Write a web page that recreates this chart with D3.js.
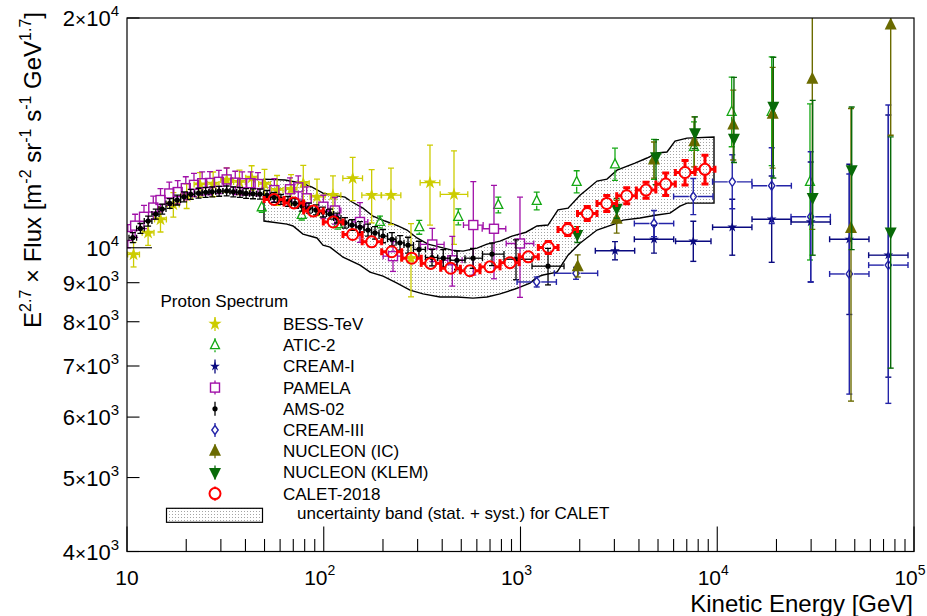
<!DOCTYPE html>
<html><head><meta charset="utf-8">
<script src="https://cdn.jsdelivr.net/npm/d3@7"></script>
<style>body{margin:0;background:#fff;} svg{display:block;font-family:"Liberation Sans",Arial,Helvetica,sans-serif;}</style>
</head><body><svg id="c" width="927" height="616"></svg>
<script>
// ---------------- DATA ----------------
const xTicks = [10, 100, 1000, 10000, 100000];
const yTicks = [4000, 5000, 6000, 7000, 8000, 9000, 10000, 20000];
const seriesNames = ["BESS-TeV","ATIC-2","CREAM-I","PAMELA","AMS-02","CREAM-III","NUCLEON (IC)","NUCLEON (KLEM)","CALET-2018"];

const bessE = [10.8,12.8,14.8,17.2,20.1,23.5,27.4,32.1,37.3,43.0,50.0,57.9,68.2,78.7,92.4,111.4,140.3,175.2,219.7,277.6,346.7,459.2];
const bessF = [9800,10460,10890,11390,11690,12100,12120,12270,12190,12350,12120,11900,11930,12150,11660,11720,12330,11720,11720,9690,12170,11750];
const bessErr = [3.7,3.7,3.7,3.7,3.7,3.7,3.7,3.7,3.7,3.7,4.5,4.5,4.5,5.5,5.5,6,6.5,8,8.5,11,12,14];
const bessDx = [0.03,0.03,0.03,0.03,0.03,0.03,0.03,0.03,0.03,0.03,0.03,0.03,0.03,0.03,0.035,0.04,0.05,0.05,0.05,0.05,0.05,0.07];

const aticE = [48.4,77.3,118.2,193.2,305.9,482.9,771.3,1209,1930,3022,4771,7617,11840,18910,29600];
const aticF = [11300,11040,10740,10810,10640,10980,11380,11520,12200,12860,13060,13560,15070,15070,12200];
const aticLo = [1.5,1.5,1.5,1.8,2.1,2.4,2.4,2.7,3.3,4.7,5.9,7.3,10,15,21];
const aticHi = [1.5,1.5,1.5,1.8,2.1,2.4,2.4,2.7,3.4,5,6.2,7.8,11,18,26.5];

const cream1E = [3022,4771,7555,11920,18910,29850,46900,74050];
const cream1F = [9910,10260,10200,10640,10900,10810,10260,9780];
const cream1Lo = [2.7,4.1,5.9,8.1,12.2,16.6,20.3,30.8];
const cream1Hi = [2.8,4.3,6.2,8.8,13.9,19.8,25.4,52.6];
const cream1Dx = [0.1,0.1,0.09,0.1,0.1,0.1,0.1,0.1];

const pamE = [10.1,11.0,12.2,13.6,14.8,16.4,18.1,19.9,21.9,24.1,26.4,29.3,32.1,35.5,38.5,42.5,46.3,56.1,67.4,74.2,81.9,99.5,114,152.8,224.9,356.2,450.1,575.6,733.2,994];
const pamF = [10360,10690,10980,11290,11550,11780,11830,11970,12090,12150,12160,12200,12290,12170,12150,12150,12120,11900,11930,12000,11610,11320,11190,10810,9750,10100,9630,10710,10590,10130];
const pamErr = [3.5,3.5,3.5,3.5,3.5,3.5,3.5,3.5,3.5,3.5,3.5,3.5,3.5,3.5,3.5,3.5,3.5,3.5,3.5,3.5,3.5,3.5,4,6,4.5,5,7.5,14,14,15];
const pamDx = [0.015,0.015,0.015,0.015,0.015,0.015,0.015,0.015,0.015,0.015,0.015,0.015,0.015,0.015,0.015,0.015,0.015,0.015,0.015,0.015,0.015,0.015,0.03,0.04,0.05,0.06,0.05,0.05,0.06,0.07];

const amsE = [10.7,11.7,12.8,14.0,15.1,16.5,18.0,19.5,21.1,23.1,25.1,27.1,29.4,32.1,34.7,37.5,40.3,43.7,47.4,51.5,55.9,60.6,65.8,71.4,77.5,84.1,91.3,99.1,107.6,116.8,128.2,139.2,152.8,167.9,182.2,200.1,222.3,244.1,268.1,304.8,355,405,475.5,573.6,716.4,948.7,1380];
const amsF = [10310,10600,10840,11070,11240,11430,11550,11660,11750,11790,11820,11840,11860,11870,11840,11820,11780,11770,11760,11710,11640,11570,11500,11430,11340,11270,11210,11140,11070,10940,10780,10710,10640,10550,10460,10360,10260,10150,10080,9950,9710,9690,9630,9690,9810,9660,9460];
const amsErr = [1.5,1.5,1.5,1.5,1.5,1.5,1.5,1.5,1.5,1.5,1.5,1.5,1.5,1.5,1.5,1.5,1.5,1.5,1.5,1.5,1.5,1.5,1.5,1.5,1.5,1.5,1.5,1.5,1.5,1.5,1.6,1.6,1.7,1.8,1.9,2,2,2.2,2.4,2.5,2.5,2.6,2.8,3,3.4,6,5.5];

const cream3E = [1209,1915,4771,7555,11920,18910,29850,46900,74050];
const cream3F = [9020,9260,10760,11670,12200,12060,10980,9240,9490];
const cream3Lo = [1.5,1.8,3.9,5.3,7.8,10.8,17.8,30.4,34.1];
const cream3Hi = [1.5,1.8,4.0,5.6,8.5,12.1,21.7,35.2,62.1];
const cream3Dx = [0.1,0.11,0.1,0.1,0.1,0.1,0.1,0.1,0.1];

const icE = [1953,3082,4771,7645,12060,19130,30420,47840,76130];
const icF = [9440,10900,13030,13770,14480,14960,16620,10600,19580];
const icLo = [3.0,4.1,5.3,7.3,10,15,36.4,40.6,28.3];
const icHi = [3.7,5.9,5.6,7.8,11.1,15.2,35.2,43.6,57.3];

const klemE = [1944,3082,4884,7707,12160,19270,30560,48230,76130];
const klemF = [10410,11270,13160,14150,13910,15330,11640,12650,10490];
const klemLo = [2.4,3,8.1,4.7,7,19.5,16,21.4,33.7];
const klemHi = [2.4,3,5.3,4.9,20.2,15.9,34,20.9,33.2];

const calE = [55.9,70.6,88.5,111.8,140.3,175.2,221.5,280,349.6,441.8,553.7,699.8,884.6,1096,1385,1738,2185,2743,3466,4344,5470,6857,8663];
const calF = [11570,11450,11170,10810,10410,10180,9880,9690,9540,9400,9330,9440,9560,9730,10010,10570,11090,11430,11700,11900,12120,12550,12670];
const calErr = [0.9,0.9,0.9,0.9,0.9,0.9,0.9,0.9,1.2,1.2,1.2,1.2,1.2,1.5,1.8,1.8,2.1,2.4,2.4,2.4,3.4,3.7,4.3];

const bandUpE = [49.7,63.5,77.5,87.2,99.1,111.4,128.2,139.2,158.3,178,204.8,238.5,265,297.8,338.8,389.8,448.5,510.3,601.1,675.6,786.8,905.6,1066,1213,1380,1551,1744,2006,2256,2448,2752,3094,3819,4395,4941,5555,6101,7021,9627];
const bandUpF = [12300,12270,12150,12010,11790,11720,11650,11480,11270,11000,10840,10680,10550,10300,10110,10020,9930,9900,9990,10110,10200,10360,10480,10680,10710,11210,11270,11720,12010,12230,12300,12640,12910,13110,13310,13350,13800,13920,13970];
const bandLoE = [49.7,65.0,69.8,78.4,92.4,99.1,107.6,125.3,152.8,171.8,200.1,235.7,274.4,319.5,389.8,475.5,573.6,675.6,786.8,937.6,994.3,1118,1213,1301,1533,1744,2006,2448,3094,3319,4049,4941,5753,6468,7021,9627];
const bandLoF = [10840,10740,10680,10420,10300,10080,10020,9720,9490,9290,9180,8990,8800,8700,8620,8620,8590,8620,8700,8830,8880,8990,9150,9210,9290,9780,10140,10550,10770,10870,10940,11040,11100,11340,11440,11440];

// ---------------- SETUP ----------------
const L = 127, R = 914, T = 18, B = 551.5;
const x = d3.scaleLog().domain([10, 1e5]).range([L, R]);
const y = d3.scaleLog().domain([4000, 20000]).range([B, T]);
const svg = d3.select('#c');
const defs = svg.append('defs');
defs.append('clipPath').attr('id', 'clip').append('rect')
  .attr('x', L).attr('y', T).attr('width', R - L).attr('height', B - T);
const pat = defs.append('pattern').attr('id', 'dots').attr('width', 3).attr('height', 3)
  .attr('patternUnits', 'userSpaceOnUse');
pat.append('rect').attr('width', 3).attr('height', 3).attr('fill', '#fff');
pat.append('rect').attr('x', 1).attr('y', 1).attr('width', 1).attr('height', 1).attr('fill', '#a4a4a4');

const plot = svg.append('g').attr('clip-path', 'url(#clip)');

// band
const bandPts = bandUpE.map((e, i) => [e, bandUpF[i]])
  .concat(bandLoE.map((e, i) => [e, bandLoF[i]]).reverse());
plot.append('path')
  .attr('d', d3.line().x(d => x(d[0])).y(d => y(d[1]))(bandPts) + 'Z')
  .attr('fill', 'url(#dots)').attr('stroke', '#000').attr('stroke-width', 1.4);

function neighborEdges(E) {
  const n = E.length, lo = [], hi = [];
  for (let i = 0; i < n; i++) {
    const prev = i > 0 ? E[i - 1] : E[i] * E[i] / E[i + 1];
    const next = i < n - 1 ? E[i + 1] : E[i] * E[i] / E[i - 1];
    lo.push(Math.sqrt(prev * E[i])); hi.push(Math.sqrt(next * E[i]));
  }
  return [lo, hi];
}
const dxEdges = (E, dx) => [E.map((e, i) => e / Math.pow(10, dx[i])), E.map((e, i) => e * Math.pow(10, dx[i]))];

const series = [
  { name: seriesNames[0], E: bessE, F: bessF, lo: bessErr, hi: bessErr, xe: dxEdges(bessE, bessDx), color: '#cccc00', m: 'star', size: 55, gap: 0, w: 1.3, cap: 3 },
  { name: seriesNames[1], E: aticE, F: aticF, lo: aticLo, hi: aticHi, xe: null, color: '#14a814', m: 'otri', gap: 5, w: 1.3, cap: 3 },
  { name: seriesNames[2], E: cream1E, F: cream1F, lo: cream1Lo, hi: cream1Hi, xe: dxEdges(cream1E, cream1Dx), color: '#0a0a80', m: 'star', size: 30, gap: 0, w: 1.4, cap: 3 },
  { name: seriesNames[3], E: pamE, F: pamF, lo: pamErr, hi: pamErr, xe: dxEdges(pamE, pamDx), color: '#a010a8', m: 'square', gap: 4.5, w: 1.3, cap: 3 },
  { name: seriesNames[4], E: amsE, F: amsF, lo: amsErr, hi: amsErr, xe: neighborEdges(amsE), color: '#000', m: 'dot', gap: 0, w: 1.3, cap: 3 },
  { name: seriesNames[5], E: cream3E, F: cream3F, lo: cream3Lo, hi: cream3Hi, xe: dxEdges(cream3E, cream3Dx), color: '#2424a8', m: 'diamond', gap: 4.5, w: 1.4, cap: 3 },
  { name: seriesNames[6], E: icE, F: icF, lo: icLo, hi: icHi, xe: null, color: '#6b6b00', m: 'tup', gap: 0, w: 1.4, cap: 3 },
  { name: seriesNames[7], E: klemE, F: klemF, lo: klemLo, hi: klemHi, xe: null, color: '#086a08', m: 'tdown', gap: 0, w: 1.4, cap: 3 },
  { name: seriesNames[8], E: calE, F: calF, lo: calErr, hi: calErr, xe: neighborEdges(calE), color: '#ff0000', m: 'circle', gap: 5.5, w: 3, cap: 3.5 }
];

function drawMarker(g, s, cx, cy) {
  const c = s.color;
  switch (s.m) {
    case 'star':
      g.append('path').attr('d', d3.symbol(d3.symbolStar, s.size)()).attr('transform', `translate(${cx},${cy})`).attr('fill', c); break;
    case 'otri':
      g.append('path').attr('d', `M${cx},${cy - 5.5}L${cx + 4.5},${cy + 3.5}L${cx - 4.5},${cy + 3.5}Z`).attr('fill', 'none').attr('stroke', c).attr('stroke-width', 1.3); break;
    case 'square':
      g.append('rect').attr('x', cx - 4.5).attr('y', cy - 4.5).attr('width', 9).attr('height', 9).attr('fill', 'none').attr('stroke', c).attr('stroke-width', 1.4); break;
    case 'dot':
      g.append('circle').attr('cx', cx).attr('cy', cy).attr('r', 2.6).attr('fill', c); break;
    case 'diamond':
      g.append('path').attr('d', `M${cx},${cy - 4.5}L${cx + 3.2},${cy}L${cx},${cy + 4.5}L${cx - 3.2},${cy}Z`).attr('fill', 'none').attr('stroke', c).attr('stroke-width', 1.4); break;
    case 'tup':
      g.append('path').attr('d', `M${cx},${cy - 7.5}L${cx + 6},${cy + 4.5}L${cx - 6},${cy + 4.5}Z`).attr('fill', c); break;
    case 'tdown':
      g.append('path').attr('d', `M${cx},${cy + 7.5}L${cx + 6},${cy - 4.5}L${cx - 6},${cy - 4.5}Z`).attr('fill', c); break;
    case 'circle':
      g.append('circle').attr('cx', cx).attr('cy', cy).attr('r', 5.5).attr('fill', 'none').attr('stroke', c).attr('stroke-width', 2); break;
  }
}
function seg(g, x1, y1, x2, y2, s) {
  g.append('line').attr('x1', x1).attr('y1', y1).attr('x2', x2).attr('y2', y2)
    .attr('stroke', s.color).attr('stroke-width', s.w);
}

series.forEach(s => {
  const g = plot.append('g');
  s.E.forEach((e, i) => {
    const cx = x(e), cy = y(s.F[i]);
    const yHi = y(s.F[i] * (1 + s.hi[i] / 100)), yLo = y(s.F[i] * (1 - s.lo[i] / 100));
    if (yHi < cy - s.gap) { seg(g, cx, cy - s.gap, cx, yHi, s); seg(g, cx - s.cap, yHi, cx + s.cap, yHi, s); }
    if (yLo > cy + s.gap) { seg(g, cx, cy + s.gap, cx, yLo, s); seg(g, cx - s.cap, yLo, cx + s.cap, yLo, s); }
    if (s.xe) {
      const xl = x(s.xe[0][i]), xr = x(s.xe[1][i]);
      if (xl < cx - s.gap) { seg(g, cx - s.gap, cy, xl, cy, s); seg(g, xl, cy - s.cap, xl, cy + s.cap, s); }
      if (xr > cx + s.gap) { seg(g, cx + s.gap, cy, xr, cy, s); seg(g, xr, cy - s.cap, xr, cy + s.cap, s); }
    }
    drawMarker(g, s, cx, cy);
  });
});

// ---------------- AXES ----------------
const ax = svg.append('g');
ax.append('rect').attr('x', L).attr('y', T).attr('width', R - L).attr('height', B - T)
  .attr('fill', 'none').attr('stroke', '#000').attr('stroke-width', 1.2);
// x ticks
for (let d = 1; d <= 5; d++) {
  for (let m = 1; m <= 9; m++) {
    const v = m * Math.pow(10, d);
    if (v < 10 || v > 1e5) continue;
    const len = m === 1 ? 25 : 12.5;
    ax.append('line').attr('x1', x(v)).attr('x2', x(v)).attr('y1', B).attr('y2', B - len).attr('stroke', '#000').attr('stroke-width', 1.1);
  }
}
xTicks.forEach(v => {
  const e = Math.round(Math.log10(v));
  const t = ax.append('text').attr('y', 585).attr('text-anchor', 'middle').attr('font-size', 21);
  if (e === 1) t.attr('x', x(v)).text('10');
  else { t.attr('x', x(v) - 4); t.append('tspan').text('10'); t.append('tspan').attr('dy', -10).attr('font-size', 14).text(e); }
});
// y ticks
yTicks.forEach(v => {
  const len = v === 10000 ? 25 : 12.5;
  ax.append('line').attr('x1', L).attr('x2', L + len).attr('y1', y(v)).attr('y2', y(v)).attr('stroke', '#000').attr('stroke-width', 1.1);
  const e = Math.floor(Math.log10(v) + 1e-9), mant = Math.round(v / Math.pow(10, e));
  const t = ax.append('text').attr('x', 119).attr('y', y(v) + 8).attr('text-anchor', 'end').attr('font-size', 22);
  if (mant !== 1) { t.append('tspan').text(mant); t.append('tspan').attr('font-size', 19).text('\u00d7'); }
  t.append('tspan').text('10');
  t.append('tspan').attr('dy', -10).attr('font-size', 15).text(e);
});
// axis titles
ax.append('text').attr('x', 913).attr('y', 612).attr('text-anchor', 'end').attr('font-size', 24).text('Kinetic Energy [GeV]');
const yt = ax.append('text').attr('transform', 'translate(41,12) rotate(-90)').attr('text-anchor', 'end').attr('font-size', 24);
yt.append('tspan').text('E');
yt.append('tspan').attr('dy', -10).attr('font-size', 16).text('2.7');
yt.append('tspan').attr('dy', 10).text(' \u00d7 Flux [m');
yt.append('tspan').attr('dy', -10).attr('font-size', 16).text('-2');
yt.append('tspan').attr('dy', 10).text(' sr');
yt.append('tspan').attr('dy', -10).attr('font-size', 16).text('-1');
yt.append('tspan').attr('dy', 10).text(' s');
yt.append('tspan').attr('dy', -10).attr('font-size', 16).text('-1');
yt.append('tspan').attr('dy', 10).text(' GeV');
yt.append('tspan').attr('dy', -10).attr('font-size', 16).text('1.7');
yt.append('tspan').attr('dy', 10).text(']');

// ---------------- LEGEND ----------------
const lg = svg.append('g');
lg.append('text').attr('x', 160.5).attr('y', 307).attr('font-size', 17).text('Proton Spectrum');
series.forEach((s, i) => {
  const by = 330 + i * 21.2, cy = by - 6;
  const g = lg.append('g');
  const mx = 215;
  if (s.gap > 0) { seg(g, mx, cy - 7, mx, cy - s.gap, { color: s.color, w: s.m === 'circle' ? 2.4 : 1.3 }); seg(g, mx, cy + s.gap, mx, cy + 7, { color: s.color, w: s.m === 'circle' ? 2.4 : 1.3 }); }
  else seg(g, mx, cy - 7, mx, cy + 7, { color: s.color, w: 1.3 });
  drawMarker(g, s, mx, cy);
  lg.append('text').attr('x', 283).attr('y', by).attr('font-size', 17).text(s.name);
});
lg.append('rect').attr('x', 166.5).attr('y', 508.3).attr('width', 96).attr('height', 14)
  .attr('fill', 'url(#dots)').attr('stroke', '#000').attr('stroke-width', 1.2);
lg.append('text').attr('x', 297).attr('y', 519).attr('font-size', 17).text('uncertainty band (stat. + syst.) for CALET');
</script></body></html>
